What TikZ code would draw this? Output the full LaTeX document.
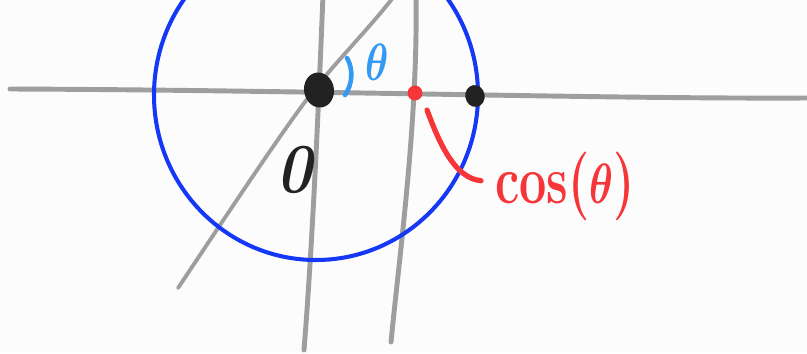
\documentclass[tikz,border=0pt]{standalone}
\usepackage{graphicx}
\usepackage{tikz}
\usetikzlibrary{shapes.geometric}
\definecolor{paperwhite}{HTML}{FCFCFC}
\definecolor{pencilgray}{HTML}{9E9E9E}
\definecolor{circleblue}{HTML}{1538F7}
\definecolor{angleblue}{HTML}{3399F2}
\definecolor{cosred}{HTML}{F53538}
\definecolor{inkblack}{HTML}{222222}

\begin{document}
\begin{tikzpicture}[x=0.02cm,y=-0.02cm,
  pencil/.style={pencilgray,line width=2.8pt,line cap=round},
  blob/.style={ellipse,fill=inkblack,inner sep=0pt}]
  \useasboundingbox[fill=paperwhite] (0,0) rectangle (807,353);
  \draw[pencil] (10,89) .. controls (300,90) and (600,99) .. (807,98);
  \draw[pencil] (323,-5) .. controls (318,120) and (312,250) .. (304,350);
  \draw[pencil] (416,-5) .. controls (418,120) and (400,250) .. (391,342);
  \draw[pencil,line width=2.2pt] (178,288) .. controls (250,180) and (290,120) .. (318,85) .. controls (345,52) and (372,25) .. (395,-5);
  \draw[circleblue,line width=2.3pt] (316,95) ellipse [x radius=162,y radius=165];
  \node[blob,minimum width=17pt,minimum height=20pt,rotate=10] (O) at (319,90) {};
  \node[blob,minimum width=11pt,minimum height=12.5pt,rotate=10] (unit) at (475,96) {};
  \node[circle,fill=cosred,inner sep=0pt,minimum size=8.5pt] (proj) at (415,93) {};
  \draw[angleblue,line width=2.6pt,line cap=round] (347,58) .. controls (354,70) and (352,85) .. (345,95);
  \node[angleblue,font=\fontsize{36}{36}\selectfont\boldmath] (theta) at (377,62) {\scalebox{0.9}[1.2]{$\theta$}};
  \node[inkblack,font=\fontsize{38}{38}\selectfont\bfseries\itshape] (zero) at (294,170) {\scalebox{0.9}[1.05]{0}};
  \node[cosred,anchor=west,inner sep=0pt,font=\fontsize{30}{30}\selectfont\bfseries\boldmath] (coslabel) at (495,186) {\scalebox{0.92}[1.3]{cos($\theta$)}};
  \coordinate (costip) at (427,110);
  \draw[cosred,line width=3pt,line cap=round] (costip) .. controls (440,145) and (455,178) .. ([xshift=-8pt,yshift=3pt]coslabel.west);
\end{tikzpicture}
\end{document}
